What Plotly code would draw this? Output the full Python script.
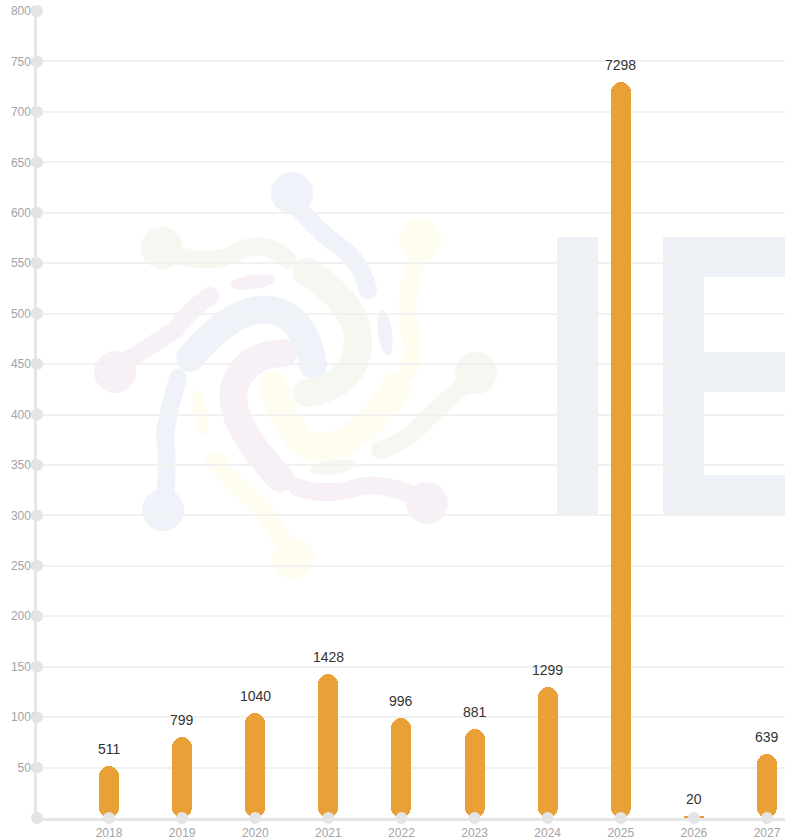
import base64
import plotly.graph_objects as go

# ---------------- data ----------------
years = ["2018", "2019", "2020", "2021", "2022", "2023", "2024", "2025", "2026", "2027"]
values = [511, 799, 1040, 1428, 996, 881, 1299, 7298, 20, 639]
y_tick_values = list(range(0, 8001, 500))
y_tick_labels = [str(v) for v in y_tick_values]

x_idx = list(range(len(years)))
X_MIN, X_MAX = -0.985, 9.246

BAR = "#E8A037"
GRID = "#f1f1f1"
AXIS = "#e6e6e8"
DOT = "#e4e4e7"
TICKTXT = "#a3a3a3"

W, H = 785, 839
ML, MR, MT, MB = 37, 0, 11, 21

fig = go.Figure()

fig.add_trace(go.Bar(
    x=x_idx, y=values, base=[0] * len(values), width=0.274,
    marker=dict(color=BAR, line=dict(width=0), cornerradius=10),
    hoverinfo="skip", showlegend=False,
))

# dots on the axes
fig.add_trace(go.Scatter(
    x=[X_MIN] * len(y_tick_values), y=y_tick_values, mode="markers",
    marker=dict(size=12, color=DOT), cliponaxis=False, hoverinfo="skip", showlegend=False,
))
fig.add_trace(go.Scatter(
    x=x_idx, y=[0] * len(x_idx), mode="markers",
    marker=dict(size=12, color=DOT), cliponaxis=False, hoverinfo="skip", showlegend=False,
))

# value labels
for i, v in zip(x_idx, values):
    fig.add_annotation(
        x=i, y=v, text=str(v), showarrow=False, yanchor="bottom", yshift=7,
        font=dict(size=14, color="#333333", family="Liberation Sans, Arial, sans-serif"),
    )

# ---------------- watermark (decoration) ----------------
def stroke(d, color, w):
    return f'<path d="{d}" fill="none" stroke="{color}" stroke-width="{w}" stroke-linecap="round" stroke-linejoin="round"/>'

def dot(cx, cy, r, color):
    return f'<circle cx="{cx}" cy="{cy}" r="{r}" fill="{color}"/>'

def ell(cx, cy, rx, ry, ang, color):
    return f'<ellipse cx="{cx}" cy="{cy}" rx="{rx}" ry="{ry}" fill="{color}" transform="rotate({ang} {cx} {cy})"/>'

BL = "#eff2f8"
GR = "#f4f8f1"
YE = "#fefdf0"
PK = "#f7f1f7"
parts = [
    '<rect x="557" y="237" width="41" height="278" fill="#eef2f7"/>',
    '<rect x="663" y="237" width="41" height="278" fill="#eef2f7"/>',
    '<rect x="663" y="237" width="130" height="40" fill="#eef2f7"/>',
    '<rect x="663" y="352" width="130" height="40" fill="#eef2f7"/>',
    '<rect x="663" y="475" width="130" height="40" fill="#eef2f7"/>',
    dot(292, 193, 21, BL), stroke("M292,200 Q318,232 338,245 Q362,262 368,290", BL, 18),
    dot(162, 248, 21, GR), stroke("M165,252 Q215,268 240,250 Q268,240 288,260", GR, 18),
    dot(420, 240, 21, YE), stroke("M420,245 Q402,300 410,330 Q414,355 408,372", YE, 18),
    dot(476, 373, 21, GR), stroke("M470,380 Q435,410 418,428 Q400,445 380,450", GR, 18),
    dot(427, 503, 21, PK), stroke("M420,498 Q380,480 355,488 Q325,497 297,487", PK, 18),
    dot(293, 558, 21, YE), stroke("M290,552 Q265,510 250,497 Q230,480 215,460", YE, 18),
    dot(163, 510, 21, BL), stroke("M165,502 Q168,460 165,432 Q170,405 178,378", BL, 18),
    dot(115, 372, 21, PK), stroke("M120,365 Q160,340 175,330 Q195,305 210,296", PK, 18),
    stroke("M190,358 Q235,305 270,310 Q305,315 313,365", BL, 28),
    stroke("M280,478 Q225,420 235,385 Q245,355 283,353", PK, 28),
    stroke("M273,385 Q290,445 320,448 Q360,445 397,387", YE, 28),
    stroke("M307,272 Q360,305 358,345 Q355,385 307,393", GR, 28),
    ell(253, 282, 23, 7, -8, PK),
    ell(385, 333, 7, 23, -8, BL),
    ell(200, 413, 7, 23, -8, YE),
    ell(333, 467, 23, 7, -8, GR),
]
svg = f'<svg xmlns="http://www.w3.org/2000/svg" width="{W}" height="{H}" viewBox="0 0 {W} {H}">' + "".join(parts) + "</svg>"
src = "data:image/svg+xml;base64," + base64.b64encode(svg.encode()).decode()

pw = W - ML - MR
ph = H - MT - MB
fig.add_layout_image(dict(
    source=src, xref="paper", yref="paper",
    x=-ML / pw, y=(H - MB) / ph, sizex=W / pw, sizey=H / ph,
    xanchor="left", yanchor="top", sizing="stretch", layer="below", opacity=1,
))

fig.update_layout(
    width=W, height=H,
    margin=dict(l=ML, r=MR, t=MT, b=MB, pad=0, autoexpand=False),
    paper_bgcolor="white", plot_bgcolor="rgba(0,0,0,0)",
    bargap=0, showlegend=False,
    font=dict(family="Liberation Sans, Arial, sans-serif"),
)
fig.update_xaxes(
    range=[X_MIN, X_MAX], tickmode="array", tickvals=x_idx, ticktext=years,
    showgrid=False, zeroline=False, showline=True, linecolor=AXIS, linewidth=3,
    ticks="", tickfont=dict(size=12, color=TICKTXT), ticklabelstandoff=2,
    layer="below traces", automargin=False,
)
fig.update_yaxes(
    range=[0, 8000], tickmode="array", tickvals=y_tick_values[1:], ticktext=y_tick_labels[1:],
    showgrid=True, gridcolor=GRID, gridwidth=1.5, zeroline=False,
    showline=True, linecolor=AXIS, linewidth=3, ticks="",
    tickfont=dict(size=12, color=TICKTXT), ticklabelstandoff=-6,
    layer="below traces", automargin=False,
)

fig.write_html(
    "out.html",
    config={"displayModeBar": False},
    post_script="document.body.style.margin='0';document.body.style.overflow='hidden';",
)
